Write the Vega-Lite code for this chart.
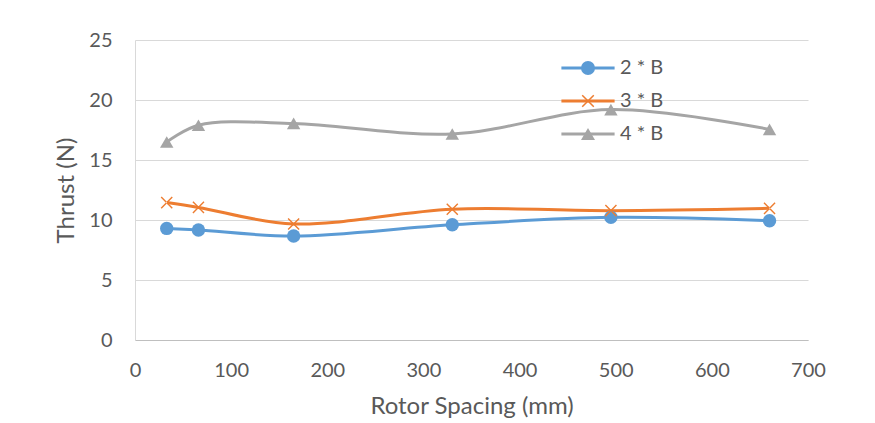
{
  "$schema": "https://vega.github.io/schema/vega-lite/v6.json",
  "width": 673,
  "height": 300,
  "autosize": "none",
  "padding": {"left": 135, "top": 40, "right": 67, "bottom": 83},
  "background": "white",
  "config": {
    "view": {"stroke": null},
    "font": "Lato",
    "axis": {
      "labelFont": "Lato",
      "titleFont": "Lato",
      "labelColor": "#595959",
      "titleColor": "#595959",
      "labelFontSize": 20,
      "titleFontSize": 24,
      "titleFontWeight": "normal",
      "gridColor": "#d9d9d9",
      "gridWidth": 1,
      "domainColor": "#bfbfbf",
      "ticks": false
    },
    "legend": {
      "orient": "none",
      "legendX": 443,
      "legendY": 18,
      "padding": 0,
      "symbolSize": 196,
      "symbolStrokeWidth": 3,
      "labelOffset": 22,
      "labelFontSize": 20,
      "labelFont": "Lato",
      "labelColor": "#595959",
      "rowPadding": 13
    }
  },
  "data": {
    "values": [
      {"spacing": 33, "thrust": 9.3, "series": "2 * B"},
      {"spacing": 66, "thrust": 9.17, "series": "2 * B"},
      {"spacing": 165, "thrust": 8.67, "series": "2 * B"},
      {"spacing": 330, "thrust": 9.6, "series": "2 * B"},
      {"spacing": 495, "thrust": 10.22, "series": "2 * B"},
      {"spacing": 660, "thrust": 9.94, "series": "2 * B"},
      {"spacing": 33, "thrust": 11.45, "series": "3 * B"},
      {"spacing": 66, "thrust": 11.05, "series": "3 * B"},
      {"spacing": 165, "thrust": 9.67, "series": "3 * B"},
      {"spacing": 330, "thrust": 10.9, "series": "3 * B"},
      {"spacing": 495, "thrust": 10.78, "series": "3 * B"},
      {"spacing": 660, "thrust": 10.97, "series": "3 * B"},
      {"spacing": 33, "thrust": 16.5, "series": "4 * B"},
      {"spacing": 66, "thrust": 17.9, "series": "4 * B"},
      {"spacing": 165, "thrust": 18.05, "series": "4 * B"},
      {"spacing": 330, "thrust": 17.17, "series": "4 * B"},
      {"spacing": 495, "thrust": 19.2, "series": "4 * B"},
      {"spacing": 660, "thrust": 17.55, "series": "4 * B"}
    ]
  },
  "encoding": {
    "x": {
      "field": "spacing",
      "type": "quantitative",
      "scale": {"domain": [0, 700], "nice": false},
      "axis": {
        "title": "Rotor Spacing (mm)",
        "values": [0, 100, 200, 300, 400, 500, 600, 700],
        "grid": false,
        "labelPadding": 20,
        "titlePadding": 14,
        "labelFlush": false
      }
    },
    "y": {
      "field": "thrust",
      "type": "quantitative",
      "scale": {"domain": [0, 25], "nice": false},
      "axis": {
        "title": "Thrust (N)",
        "values": [0, 5, 10, 15, 20, 25],
        "labelPadding": 23,
        "titlePadding": 10,
        "domainColor": "#d9d9d9"
      }
    }
  },
  "layer": [
    {
      "mark": {"type": "line", "interpolate": "catmull-rom", "strokeWidth": 3},
      "encoding": {
        "stroke": {
          "field": "series",
          "type": "nominal",
          "scale": {"range": ["#5B9BD5", "#ED7D31", "#A5A5A5"]},
          "legend": {
            "title": null,
            "symbolType": "M-3.8,0L3.8,0",
            "labelColor": "transparent"
          }
        }
      }
    },
    {
      "mark": {"type": "point", "filled": true, "opacity": 1, "size": 180},
      "encoding": {
        "color": {
          "field": "series",
          "type": "nominal",
          "scale": {"domain": ["2 * B", "3 * B", "4 * B"], "range": ["#5B9BD5", "#ED7D31", "#A5A5A5"]},
          "legend": {"title": null}
        },
        "shape": {
          "field": "series",
          "type": "nominal",
          "scale": {"domain": ["2 * B", "3 * B", "4 * B"], "range": ["circle", "M-0.9,-0.75L-0.75,-0.9L0.9,0.75L0.75,0.9ZM0.75,-0.9L-0.9,0.75L-0.75,0.9L0.9,-0.75Z", "triangle-up"]},
          "legend": {"title": null}
        }
      }
    }
  ]
}
